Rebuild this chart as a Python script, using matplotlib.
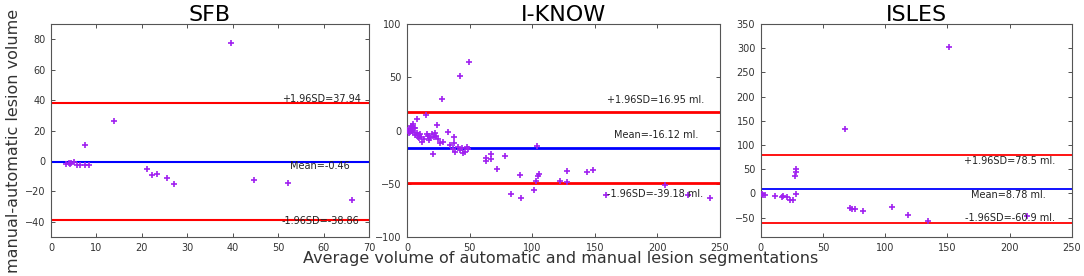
import numpy as np
import matplotlib
matplotlib.use("Agg")
import matplotlib.pyplot as plt

# Bland-Altman data (x = average volume, y = manual - automatic)
sfb_x = [39.6, 13.8, 7.4, 3.4, 3.9, 4.2, 4.5, 5.0, 5.8, 6.5, 7.6, 8.4,
         21.2, 22.3, 23.3, 25.5, 27.1, 44.7, 52.2, 66.3]
sfb_y = [77.2, 26.4, 10.2, -2.3, -1.4, -1.8, -1.2, -0.4, -3.0, -2.4, -2.4, -2.4,
         -5.5, -9.4, -8.7, -10.9, -15.1, -12.7, -14.4, -25.4]
sfb_lines = [37.94, -0.46, -38.86]
sfb_labels = ["+1.96SD=37.94", "Mean=-0.46", "-1.96SD=-38.86"]

iknow_x = [49.6, 41.8, 27.7, 14.7, 7.5, 4.8, 3.5, 6.2, 2.2, 4.8, 7.5, 9.4,
           11.0, 12.0, 15.5, 18.1, 19.5, 22.1, 22.9, 24.0, 24.8, 26.1, 28.8,
           32.8, 37.6, 34.1, 37.3, 38.1, 40.8, 43.5, 44.8, 47.4, 48.5, 20.3,
           1.0, 2.5, 3.0, 5.5, 6.5, 8.5, 10.0, 13.0, 16.5, 17.5, 21.0, 0.5,
           1.5, 4.0, 9.0, 36.5, 42.0, 46.0,
           62.6, 62.9, 66.6, 67.2, 71.7, 78.3, 82.6, 90.1, 90.6, 101.3, 102.6,
           103.6, 104.2, 105.0, 122.3, 127.4, 127.6, 143.4, 148.7, 158.5,
           205.7, 224.4, 242.2]
iknow_y = [64.0, 51.5, 29.5, 14.6, 10.5, 6.1, 3.6, 2.0, -1.1, -1.7, -2.6, -4.2,
           -5.8, -10.5, -3.6, -7.4, -3.6, -2.6, -5.1, 5.2, -8.3, -11.4, -10.5,
           -1.1, -6.4, -13.6, -12.0, -19.9, -15.2, -16.8, -21.4, -15.2, -17.5, -22.4,
           -0.5, 1.0, 4.5, 2.5, -4.5, -6.5, -3.5, -8.0, -5.0, -9.0, -6.0, 0.5,
           -2.0, -0.5, -7.0, -17.5, -18.5, -20.0,
           -25.4, -28.6, -22.3, -27.0, -36.1, -24.2, -59.3, -41.4, -63.4, -55.9, -47.4,
           -14.8, -43.0, -41.1, -47.7, -48.7, -38.3, -39.2, -37.0, -60.3,
           -50.9, -60.9, -63.1]
iknow_lines = [16.95, -16.12, -49.2]
iknow_labels = ["+1.96SD=16.95 ml.", "Mean=-16.12 ml.", "-1.96SD=-39.18 ml."]

isles_x = [151.1, 67.5, 28.7, 28.4, 27.9, 28.4, 0.8, 2.1, 3.2, 11.8, 17.1,
           18.2, 20.9, 23.6, 26.3, 71.8, 73.4, 76.1, 82.5, 105.3, 118.2, 134.8, 213.8]
isles_y = [301.5, 133.5, 50.5, 43.6, 35.3, -1.4, -1.4, -2.8, -3.5, -6.2, -8.3,
           -5.5, -8.3, -13.8, -13.8, -30.4, -32.5, -32.5, -36.0, -27.7, -45.0, -56.7, -47.0]
isles_lines = [78.5, 8.78, -60.9]
isles_labels = ["+1.96SD=78.5 ml.", "Mean=8.78 ml.", "-1.96SD=-60.9 ml."]

panels = [
    dict(title="SFB", x=sfb_x, y=sfb_y, lines=sfb_lines, labels=sfb_labels,
         xlim=(0, 70), ylim=(-50, 90), xt=np.arange(0, 71, 10), yt=np.arange(-40, 81, 20),
         pos=[0.047, 0.1413, 0.2934, 0.7717],
         txt=[(50.8, 40.7), (52.7, -3.5), (50.8, -39.8)], lw=1.5),
    dict(title="I-KNOW", x=iknow_x, y=iknow_y, lines=iknow_lines, labels=iknow_labels,
         xlim=(0, 250), ylim=(-100, 100), xt=np.arange(0, 251, 50), yt=np.arange(-100, 101, 50),
         pos=[0.3757, 0.1413, 0.2885, 0.7717],
         txt=[(160, 28.6), (165, -4.2), (159.6, -59.6)], lw=2.0),
    dict(title="ISLES", x=isles_x, y=isles_y, lines=isles_lines, labels=isles_labels,
         xlim=(0, 250), ylim=(-90, 350), xt=np.arange(0, 251, 50), yt=np.arange(-50, 351, 50),
         pos=[0.7018, 0.1413, 0.2869, 0.7717],
         txt=[(163.3, 67.7), (168.8, -4.0), (164, -50)], lw=1.3),
]

fig = plt.figure(figsize=(10.84, 2.76), dpi=100)

for p in panels:
    ax = fig.add_axes(p["pos"])
    ax.plot(p["x"], p["y"], linestyle="none", marker="+", color="#a020f0",
            markersize=4, markeredgewidth=1.2, zorder=3)
    colors = ["#ff0000", "#0000ff", "#ff0000"]
    for val, c in zip(p["lines"], colors):
        ax.axhline(val, color=c, linewidth=p["lw"], zorder=2)
    for (tx, ty), lab in zip(p["txt"], p["labels"]):
        ax.text(tx, ty, lab, fontsize=7, va="center", ha="left", color="#222222", zorder=4)
    ax.set_xlim(*p["xlim"])
    ax.set_ylim(*p["ylim"])
    ax.set_xticks(p["xt"])
    ax.set_yticks(p["yt"])
    ax.tick_params(direction="in", top=True, right=True, length=3, width=0.6,
                   labelsize=7, pad=4, colors="#333333")
    for s in ax.spines.values():
        s.set_linewidth(0.8)
        s.set_color("#555555")
    ax.set_title(p["title"], fontsize=16, pad=2)

fig.text(0.517, 0.065, "Average volume of automatic and manual lesion segmentations",
         ha="center", va="center", fontsize=11.5, color="#333333")
fig.text(0.012, 0.49, "manual-automatic lesion volume", rotation=90,
         ha="center", va="center", fontsize=11.5, color="#333333")

fig.savefig("out.png", dpi=100)
